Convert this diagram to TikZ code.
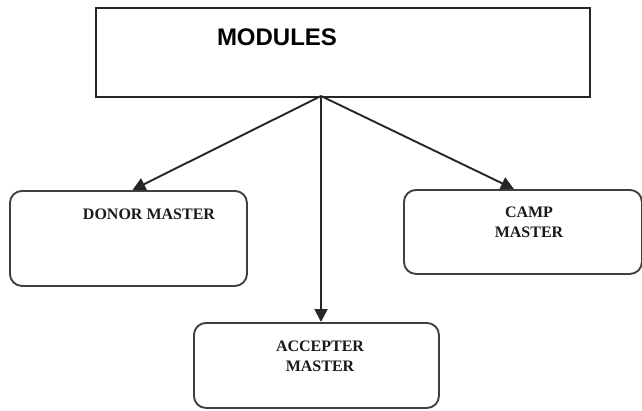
\documentclass[tikz,border=0pt]{standalone}
\usepackage{fontspec}
\setmainfont{Liberation Serif}
\newfontfamily\headfont{Liberation Sans}
\usetikzlibrary{arrows.meta}
\begin{document}
\begin{tikzpicture}[x=1pt,y=-1pt,
  topbox/.style={draw=black!85, line width=2pt, inner sep=0pt, anchor=north west},
  modbox/.style={draw=black!75, line width=1.9pt, rounded corners=12pt, inner sep=0pt, anchor=north west},
  lbl/.style={inner sep=0pt, font=\bfseries\fontsize{16}{20}\selectfont, align=center, text=black!90},
  conn/.style={line width=1.9pt, draw=black!85, -{Triangle[length=13pt,width=13pt]}}]
\useasboundingbox (0,0) rectangle (642,410);
\node[topbox, minimum width=494pt, minimum height=89pt] (top) at (95,7) {};
\node[inner sep=0pt, font=\headfont\bfseries\fontsize{24}{28}\selectfont] (toplbl) at (277,37) {MODULES};
\node[modbox, minimum width=237pt, minimum height=95pt] (donor) at (9,190) {};
\node[modbox, minimum width=238pt, minimum height=84pt] (camp) at (403,189) {};
\node[modbox, minimum width=245pt, minimum height=85pt] (acc) at (193,322) {};
\node[lbl] (donorlbl) at (149,214) {DONOR MASTER};
\node[lbl] (camplbl) at (529,222) {CAMP\\MASTER};
\node[lbl] (acclbl) at (320,356) {ACCEPTER\\MASTER};
\coordinate (src) at (321,96);
\draw[conn] (src) -- ([xshift=4pt]donor.north);
\draw[conn] (src) -- ([xshift=-9pt]camp.north);
\draw[conn] (src) -- (acc.north -| src);
\end{tikzpicture}
\end{document}
